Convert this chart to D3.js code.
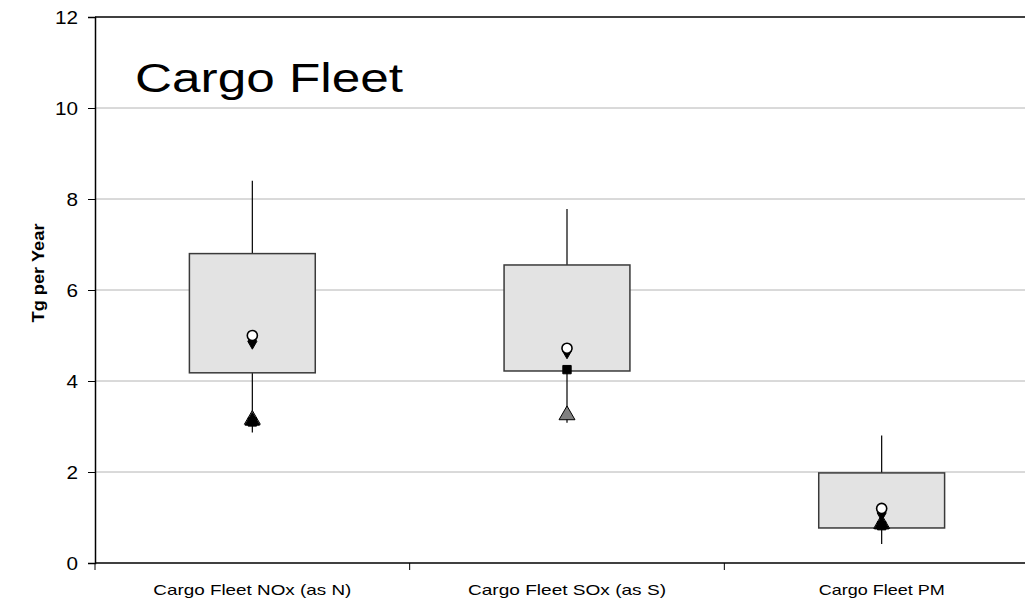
<!DOCTYPE html>
<html><head><meta charset="utf-8">
<script src="https://cdn.jsdelivr.net/npm/d3@7"></script>
<style>body{margin:0;background:#fff}svg{display:block;font-family:Arial,"Liberation Sans",sans-serif}</style>
</head><body><svg id="c" width="1025" height="600"></svg>
<script>
const categories = ["Cargo Fleet NOx (as N)", "Cargo Fleet SOx (as S)", "Cargo Fleet PM"];
const whiskerLow  = [2.87, 3.08, 0.42];
const boxLow      = [4.18, 4.22, 0.77];
const boxHigh     = [6.80, 6.55, 1.98];
const whiskerHigh = [8.40, 7.78, 2.80];
const circleVals  = [5.00, 4.72, 1.20];
const diamondVals = [4.87, 4.66, 1.10];
const grayTriVals = [3.15, 3.25, 0.86];
const blackTriVals= [3.12, null, 0.84];
const squareVals  = [3.10, 4.25, 0.82];
const yTicks = [0, 2, 4, 6, 8, 10, 12];

const svg = d3.select("#c");
const L = 95, T = 17, B = 563, R = 1039;
const x = d3.scaleBand().domain(categories).range([L, R]).paddingInner(0).paddingOuter(0);
const y = d3.scaleLinear().domain([0, 12]).range([B, T]);
const bw = x.bandwidth() * 0.4;
const cx = c => x(c) + x.bandwidth() / 2;

// gridlines
svg.append("g").selectAll("line").data(yTicks.filter(v => v > 0 && v < 12)).join("line")
  .attr("x1", L).attr("x2", 1025).attr("y1", d => y(d)).attr("y2", d => y(d))
  .attr("stroke", "#b4b4b4").attr("stroke-width", 1);
// top border
svg.append("line").attr("x1", L).attr("x2", 1025).attr("y1", y(12)).attr("y2", y(12))
  .attr("stroke", "#000").attr("stroke-width", 1.5);

// y axis
const yAxis = svg.append("g").attr("transform", `translate(${L},0)`)
  .call(d3.axisLeft(y).tickValues(yTicks).tickSize(7).tickFormat(d3.format("d")));
yAxis.select(".domain").attr("stroke", "#000").attr("stroke-width", 1.5);
yAxis.selectAll(".tick line").attr("stroke", "#000");
yAxis.selectAll(".tick text").attr("font-size", 18).attr("fill", "#000")
  .attr("font-family", "Arial, 'Liberation Sans', sans-serif")
  .attr("x", 0).attr("dy", "0.36em")
  .attr("transform", "translate(-17,0) scale(1.15,1)");

// x axis
const xAxis = svg.append("g").attr("transform", `translate(0,${B})`)
  .call(d3.axisBottom(x).tickSize(0).tickFormat(""));
xAxis.select(".domain").remove();
svg.append("line").attr("x1", L).attr("x2", 1025).attr("y1", B).attr("y2", B)
  .attr("stroke", "#000").attr("stroke-width", 1.5);
svg.append("g").selectAll("line").data(categories).join("line")
  .attr("x1", d => x(d)).attr("x2", d => x(d)).attr("y1", B).attr("y2", B + 7)
  .attr("stroke", "#000");
svg.append("g").selectAll("text").data(categories).join("text")
  .attr("x", d => cx(d)).attr("y", 595).attr("text-anchor", "middle")
  .attr("font-size", 15).attr("fill", "#000")
  .attr("textLength", d => d.length * 9.0).attr("lengthAdjust", "spacingAndGlyphs")
  .text(d => d);

// whiskers
const g = svg.append("g");
categories.forEach((c, i) => {
  g.append("line").attr("x1", cx(c)).attr("x2", cx(c))
    .attr("y1", y(whiskerHigh[i])).attr("y2", y(whiskerLow[i]))
    .attr("stroke", "#000").attr("stroke-width", 1.2);
});
g.selectAll("rect").data(categories).join("rect")
  .attr("x", d => cx(d) - bw / 2).attr("width", bw)
  .attr("y", (d, i) => y(boxHigh[i])).attr("height", (d, i) => y(boxLow[i]) - y(boxHigh[i]))
  .attr("fill", "#e3e3e3").attr("stroke", "#3a3a3a").attr("stroke-width", 1.5);

function markers(vals, type, size, fill, stroke, sw) {
  const sym = d3.symbol().type(type).size(size);
  svg.append("g").selectAll("path").data(categories.map((c, i) => [c, vals[i]]).filter(d => d[1] != null))
    .join("path").attr("d", sym)
    .attr("transform", d => `translate(${cx(d[0])},${y(d[1])})`)
    .attr("fill", fill).attr("stroke", stroke).attr("stroke-width", sw);
}
markers(grayTriVals, d3.symbolTriangle, 110, "#808080", "#000", 1);
markers(blackTriVals, d3.symbolTriangle, 90, "#000", "#000", 1);
markers(squareVals, d3.symbolSquare, 70, "#000", "#000", 1);
markers(diamondVals, d3.symbolDiamond, 70, "#000", "#000", 1);
markers(circleVals, d3.symbolCircle, 80, "#fff", "#000", 1.6);

// title
svg.append("text").attr("x", 135).attr("y", 92).attr("font-size", 40).attr("fill", "#000")
  .attr("textLength", 268).attr("lengthAdjust", "spacingAndGlyphs").text("Cargo Fleet");
// y label
svg.append("text").attr("transform", "translate(44,273) rotate(-90)")
  .attr("text-anchor", "middle").attr("font-size", 17).attr("font-weight", "bold")
  .attr("textLength", 99).attr("lengthAdjust", "spacingAndGlyphs").text("Tg per Year");
</script></body></html>
